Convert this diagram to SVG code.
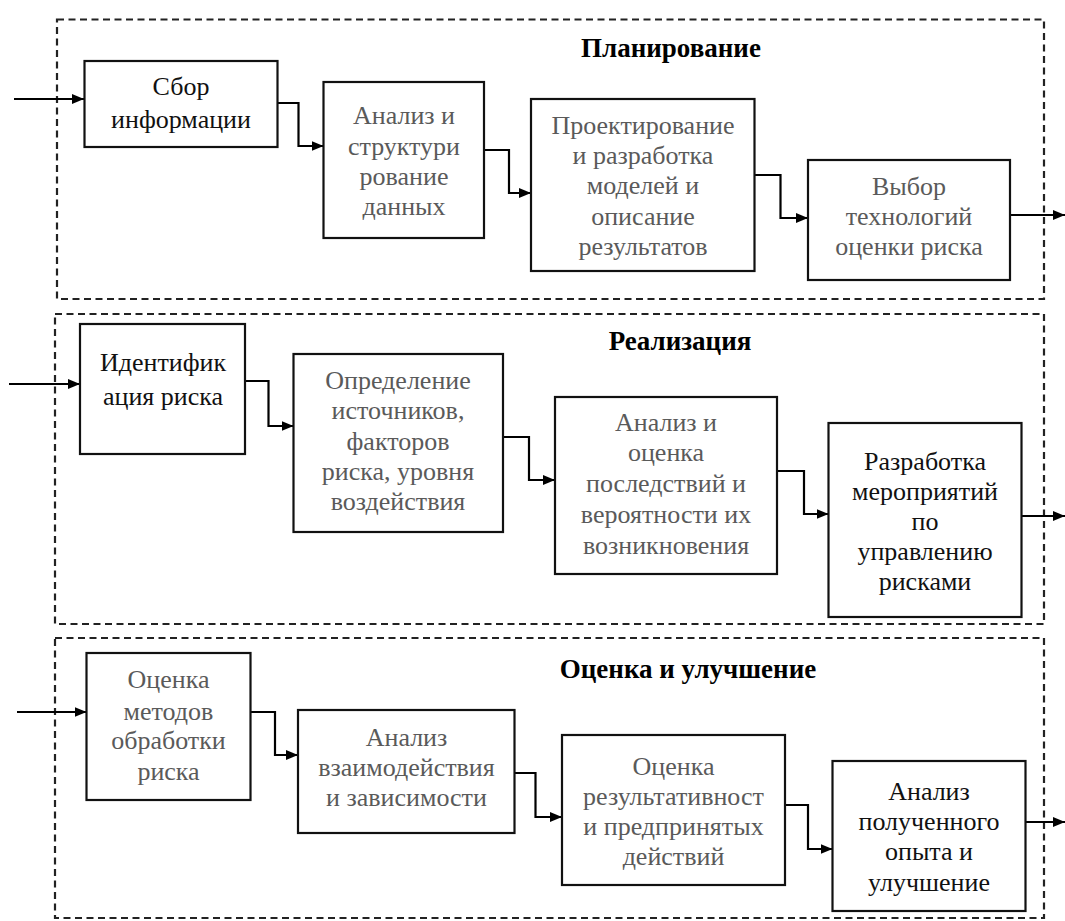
<svg xmlns="http://www.w3.org/2000/svg" width="1065" height="921" viewBox="0 0 1065 921">
<style>
.frame{fill:none;stroke:#222;stroke-width:2.2;stroke-dasharray:7 4.5}
.box{fill:#fff;stroke:#111;stroke-width:2.2}
.t{font-family:"Liberation Serif","Times New Roman",serif;font-size:26px;text-anchor:middle}
.g{fill:#5a5a5a}
.k{fill:#111}
.title{font-family:"Liberation Serif","Times New Roman",serif;font-size:27px;font-weight:bold;text-anchor:middle;fill:#000}
.c{fill:none;stroke:#000;stroke-width:2.2}
</style>
<defs>
<marker id="ah" markerUnits="userSpaceOnUse" markerWidth="12" markerHeight="10" refX="12" refY="5" orient="auto">
<path d="M0,0 L12,5 L0,10 z" fill="#000"/>
</marker>
</defs>
<g id="stages">
<rect id="stage-plan" class="frame" x="57" y="19.5" width="987" height="279.5"/>
<rect id="stage-real" class="frame" x="55" y="314" width="989" height="310"/>
<rect id="stage-eval" class="frame" x="55" y="638" width="989" height="280"/>
<text class="title" x="671" y="57">Планирование</text>
<text class="title" x="680" y="350">Реализация</text>
<text class="title" x="688" y="678">Оценка и улучшение</text>
</g>
<g id="connectors">
<path class="c" marker-end="url(#ah)" d="M14,99 H84"/>
<path class="c" marker-end="url(#ah)" d="M277,103 H298.5 V146 H323.5"/>
<path class="c" marker-end="url(#ah)" d="M484,150 H509 V193 H531"/>
<path class="c" marker-end="url(#ah)" d="M754.5,175 H780.5 V218 H808"/>
<path class="c" marker-end="url(#ah)" d="M1010,215 H1065"/>
<path class="c" marker-end="url(#ah)" d="M9,384 H80"/>
<path class="c" marker-end="url(#ah)" d="M245,381 H268.5 V426 H293.5"/>
<path class="c" marker-end="url(#ah)" d="M503,437 H529 V480 H555"/>
<path class="c" marker-end="url(#ah)" d="M777,471 H804 V514 H828.5"/>
<path class="c" marker-end="url(#ah)" d="M1021.5,516 H1065"/>
<path class="c" marker-end="url(#ah)" d="M17,712 H86.5"/>
<path class="c" marker-end="url(#ah)" d="M250.5,712 H275 V755 H298"/>
<path class="c" marker-end="url(#ah)" d="M514.5,773 H535.5 V817 H562"/>
<path class="c" marker-end="url(#ah)" d="M785,805 H808 V849 H832.5"/>
<path class="c" marker-end="url(#ah)" d="M1022,822 H1065"/>
</g>
<g id="n-a1">
<rect class="box" x="84.5" y="61" width="193" height="86"/>
<text class="t k" x="181" y="95">Сбор</text>
<text class="t k" x="181" y="128">информации</text>
</g>
<g id="n-a2">
<rect class="box" x="323.5" y="82" width="160.5" height="156"/>
<text class="t g" x="404" y="124">Анализ и</text>
<text class="t g" x="404" y="155">структури</text>
<text class="t g" x="404" y="185">рование</text>
<text class="t g" x="404" y="215">данных</text>
</g>
<g id="n-a3">
<rect class="box" x="531" y="99" width="223.5" height="172"/>
<text class="t g" x="643" y="134">Проектирование</text>
<text class="t g" x="643" y="164">и разработка</text>
<text class="t g" x="643" y="194">моделей и</text>
<text class="t g" x="643" y="225">описание</text>
<text class="t g" x="643" y="255">результатов</text>
</g>
<g id="n-a4">
<rect class="box" x="808" y="160" width="202" height="120"/>
<text class="t g" x="909" y="195">Выбор</text>
<text class="t g" x="909" y="225">технологий</text>
<text class="t g" x="909" y="255">оценки риска</text>
</g>
<g id="n-b1">
<rect class="box" x="80" y="324" width="165" height="130"/>
<text class="t k" x="163" y="371">Идентифик</text>
<text class="t k" x="163" y="405">ация риска</text>
</g>
<g id="n-b2">
<rect class="box" x="293.5" y="354" width="209.5" height="178"/>
<text class="t g" x="398" y="389">Определение</text>
<text class="t g" x="398" y="419">источников,</text>
<text class="t g" x="398" y="450">факторов</text>
<text class="t g" x="398" y="480">риска, уровня</text>
<text class="t g" x="398" y="510">воздействия</text>
</g>
<g id="n-b3">
<rect class="box" x="555" y="397" width="222" height="177"/>
<text class="t g" x="666" y="431">Анализ и</text>
<text class="t g" x="666" y="461">оценка</text>
<text class="t g" x="666" y="492">последствий и</text>
<text class="t g" x="666" y="523">вероятности их</text>
<text class="t g" x="666" y="554">возникновения</text>
</g>
<g id="n-b4">
<rect class="box" x="828.5" y="423" width="193" height="194"/>
<text class="t k" x="925" y="470">Разработка</text>
<text class="t k" x="925" y="500">мероприятий</text>
<text class="t k" x="925" y="530">по</text>
<text class="t k" x="925" y="560">управлению</text>
<text class="t k" x="925" y="590">рисками</text>
</g>
<g id="n-c1">
<rect class="box" x="86.5" y="653" width="164" height="147"/>
<text class="t g" x="168.5" y="688">Оценка</text>
<text class="t g" x="168.5" y="720">методов</text>
<text class="t g" x="168.5" y="749">обработки</text>
<text class="t g" x="168.5" y="780">риска</text>
</g>
<g id="n-c2">
<rect class="box" x="298" y="710" width="216.5" height="123"/>
<text class="t g" x="406.5" y="746">Анализ</text>
<text class="t g" x="406.5" y="776">взаимодействия</text>
<text class="t g" x="406.5" y="806">и зависимости</text>
</g>
<g id="n-c3">
<rect class="box" x="562" y="735" width="223" height="150"/>
<text class="t g" x="673.5" y="775">Оценка</text>
<text class="t g" x="673.5" y="805">результативност</text>
<text class="t g" x="673.5" y="835">и предпринятых</text>
<text class="t g" x="673.5" y="865">действий</text>
</g>
<g id="n-c4">
<rect class="box" x="832.5" y="761" width="193" height="150"/>
<text class="t k" x="929" y="800">Анализ</text>
<text class="t k" x="929" y="830">полученного</text>
<text class="t k" x="929" y="860">опыта и</text>
<text class="t k" x="929" y="891">улучшение</text>
</g>
</svg>
